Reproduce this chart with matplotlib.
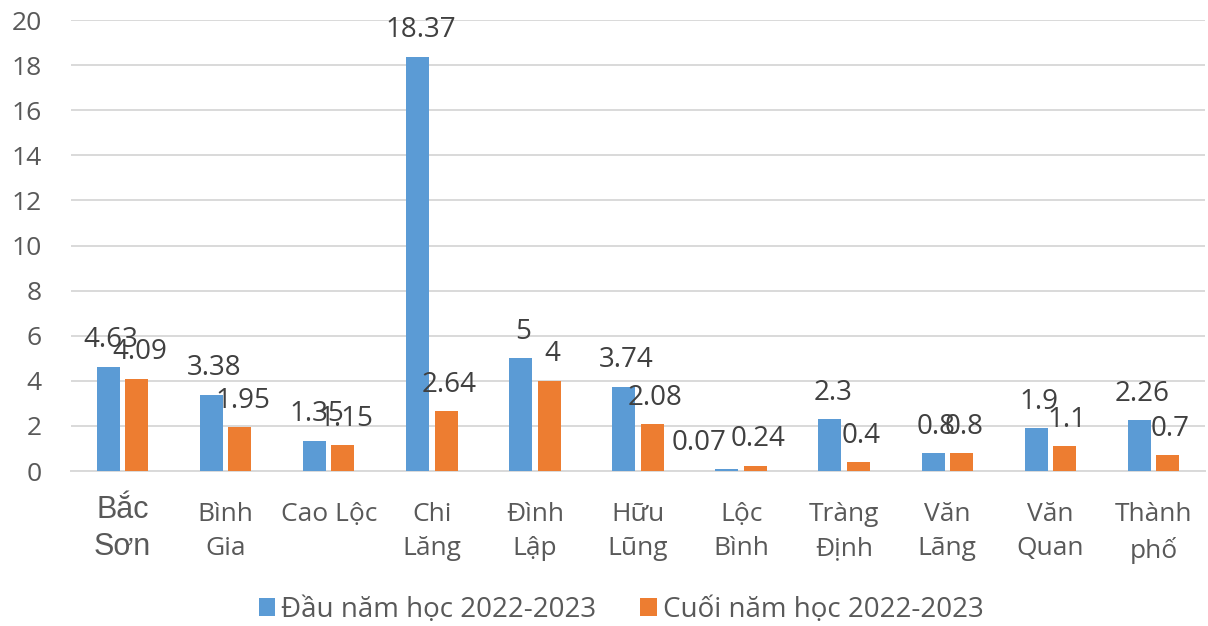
import numpy as np
import matplotlib
matplotlib.use('Agg')
import matplotlib.pyplot as plt
from matplotlib.transforms import ScaledTranslation

plt.rcParams['font.family'] = ['Open Sans', 'DejaVu Sans']

# Data
categories = ['Bắc\nSơn', 'Bình\nGia', 'Cao Lộc', 'Chi\nLăng', 'Đình\nLập', 'Hữu\nLũng',
              'Lộc\nBình', 'Tràng\nĐịnh', 'Văn\nLãng', 'Văn\nQuan', 'Thành\nphố']
dau_nam = [4.63, 3.38, 1.35, 18.37, 5, 3.74, 0.07, 2.3, 0.8, 1.9, 2.26]
cuoi_nam = [4.09, 1.95, 1.15, 2.64, 4, 2.08, 0.24, 0.4, 0.8, 1.1, 0.7]
series_names = ['Đầu năm học 2022-2023', 'Cuối năm học 2022-2023']
y_ticks = list(range(0, 21, 2))

BLUE = '#5B9BD5'
ORANGE = '#ED7D31'
GRID = '#D9D9D9'
TEXT = '#595959'
LABEL = '#404040'

fig = plt.figure(figsize=(12.08, 6.26), dpi=100)
ax = fig.add_axes([0.0588, 0.2476, 0.9387, 0.7204])

x = np.arange(len(categories))
w = 0.223
off = 0.138
b1 = ax.bar(x - off, dau_nam, w, color=BLUE, label=series_names[0], zorder=3)
b2 = ax.bar(x + off, cuoi_nam, w, color=ORANGE, label=series_names[1], zorder=3)

# the Lộc Bình start-of-year label was nudged left in the original
nudge = {(0, 6): -20}
for si, (bars, vals) in enumerate(((b1, dau_nam), (b2, cuoi_nam))):
    for i, (bar, v) in enumerate(zip(bars, vals)):
        dx = nudge.get((si, i), 2)
        ax.annotate(f'{v:g}', (bar.get_x() + bar.get_width() / 2, bar.get_height()),
                    xytext=(dx, 14), textcoords='offset points',
                    ha='center', va='baseline', fontsize=20, color=LABEL, zorder=4)

ax.set_xlim(-0.5, len(categories) - 0.5)
ax.set_ylim(0, 20)
ax.set_yticks(y_ticks)
ax.tick_params(axis='y', length=0, pad=21, labelsize=19, labelcolor=TEXT)
ax.tick_params(axis='x', length=0, pad=22, labelsize=19, labelcolor=TEXT)
ax.set_xticks(x, categories, linespacing=1.5, va='top')
first = ax.get_xticklabels()[0]
first.set_fontfamily(['Liberation Sans', 'DejaVu Sans'])
first.set_fontsize(22)
first.set_linespacing(1.3)
first.set_transform(first.get_transform() + ScaledTranslation(0, 5 / 72, fig.dpi_scale_trans))

ax.grid(axis='y', color=GRID, linewidth=1.4, zorder=0)
for s in ['top', 'right', 'left']:
    ax.spines[s].set_visible(False)
ax.spines['bottom'].set_color(GRID)
ax.spines['bottom'].set_linewidth(1.4)

fig.legend(loc='center', bbox_to_anchor=(0.514, 0.026), ncol=2, frameon=False,
           fontsize=20, handlelength=0.6, handleheight=0.6, handletextpad=0.2,
           columnspacing=1.6, labelcolor=TEXT)

fig.savefig('out.png', dpi=100)
